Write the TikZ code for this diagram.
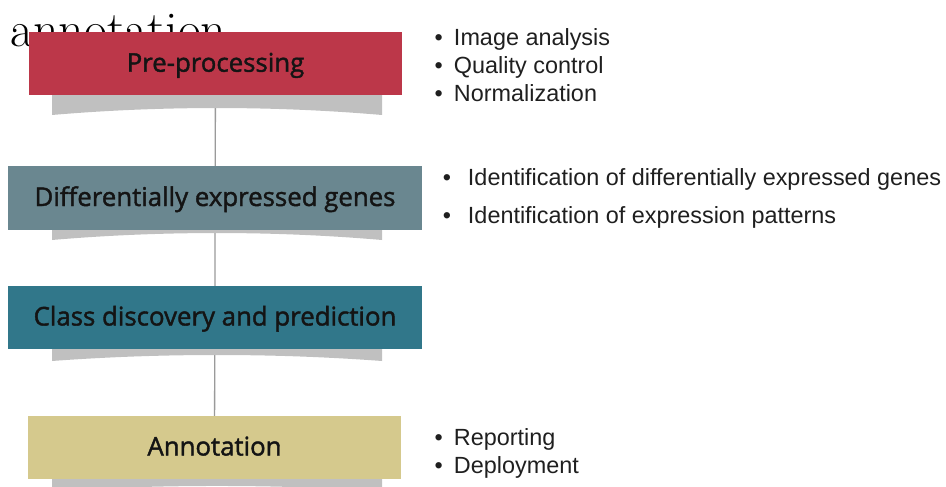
\documentclass[tikz,border=0pt]{standalone}
\usepackage{fontspec}
\newfontfamily\boxfont[FakeBold=1.6]{Open Sans}
\newfontfamily\listfont{Liberation Sans}
\definecolor{preRed}{HTML}{BC3749}
\definecolor{degSlate}{HTML}{6A8790}
\definecolor{clsTeal}{HTML}{31778A}
\definecolor{annKhaki}{HTML}{D5C98D}
\definecolor{shadowGrey}{HTML}{C0C0C0}
\definecolor{linkGrey}{HTML}{9A9A9A}
\pgfdeclarelayer{bg}
\pgfsetlayers{bg,main}

\begin{document}
\begin{tikzpicture}[x=1pt,y=-1pt,
  stage/.style={minimum height=63.5pt, inner sep=0pt, text height=16pt,
    text depth=0pt, text=black!92, font=\boxfont\fontsize{25.8}{30}\selectfont},
  item/.style={anchor=base west, inner sep=0pt, text=black!88,
    font=\listfont\fontsize{23.4}{27}\selectfont},
  shade/.style={fill=shadowGrey},
  link/.style={draw=linkGrey, line width=1.3pt}]
\clip (0,0) rectangle (946,487);

% stage boxes
\node[stage, fill=preRed,   minimum width=373pt] (pre) at (215.5,63.75) {Pre-processing};
\node[stage, fill=degSlate, minimum width=414pt] (deg) at (215,198)  {Differentially expressed genes};
\node[stage, fill=clsTeal,  minimum width=414pt] (cls) at (215,317.5) {Class discovery and prediction};
\node[stage, fill=annKhaki, minimum width=373pt] (ann) at (214.5,447.5) {Annotation};

\begin{pgfonlayer}{bg}
  % stray heading text behind the first box
  \node[anchor=base west, inner sep=0pt, font=\fontsize{50}{60}\selectfont] (stray) at (10,47) {annotation};
  % connector through all stages
  \draw[link] (pre.center) -- (ann.center);
  % curved drop shadows under the boxes
  \fill[shade] (52,93) -- (52,115) .. controls (160,105.7) and (274,105.7) .. (382,115) -- (382,93) -- cycle;
  \fill[shade] (52,228) -- (52,240) .. controls (160,230.7) and (274,230.7) .. (382,240) -- (382,228) -- cycle;
  \fill[shade] (52,347) -- (52,361) .. controls (160,353) and (274,353) .. (382,361) -- (382,347) -- cycle;
  \fill[shade] (52,477) -- (52,491) .. controls (160,484.3) and (274,484.3) .. (382,491) -- (382,477) -- cycle;
\end{pgfonlayer}

% bullet lists
\node[item] (p1) at (434.3,46)  {\makebox[19.5pt][l]{•}Image analysis};
\node[item] (p2) at (434.3,74)  {\makebox[19.5pt][l]{•}Quality control};
\node[item] (p3) at (434.3,102) {\makebox[19.5pt][l]{•}Normalization};
\node[item] (d1) at (442.7,185) {\makebox[25.1pt][l]{•}Identification of differentially expressed genes};
\node[item] (d2) at (442.7,223) {\makebox[25.1pt][l]{•}Identification of expression patterns};
\node[item] (a1) at (434.3,445) {\makebox[19.5pt][l]{•}Reporting};
\node[item] (a2) at (434.3,473) {\makebox[19.5pt][l]{•}Deployment};
\end{tikzpicture}
\end{document}
